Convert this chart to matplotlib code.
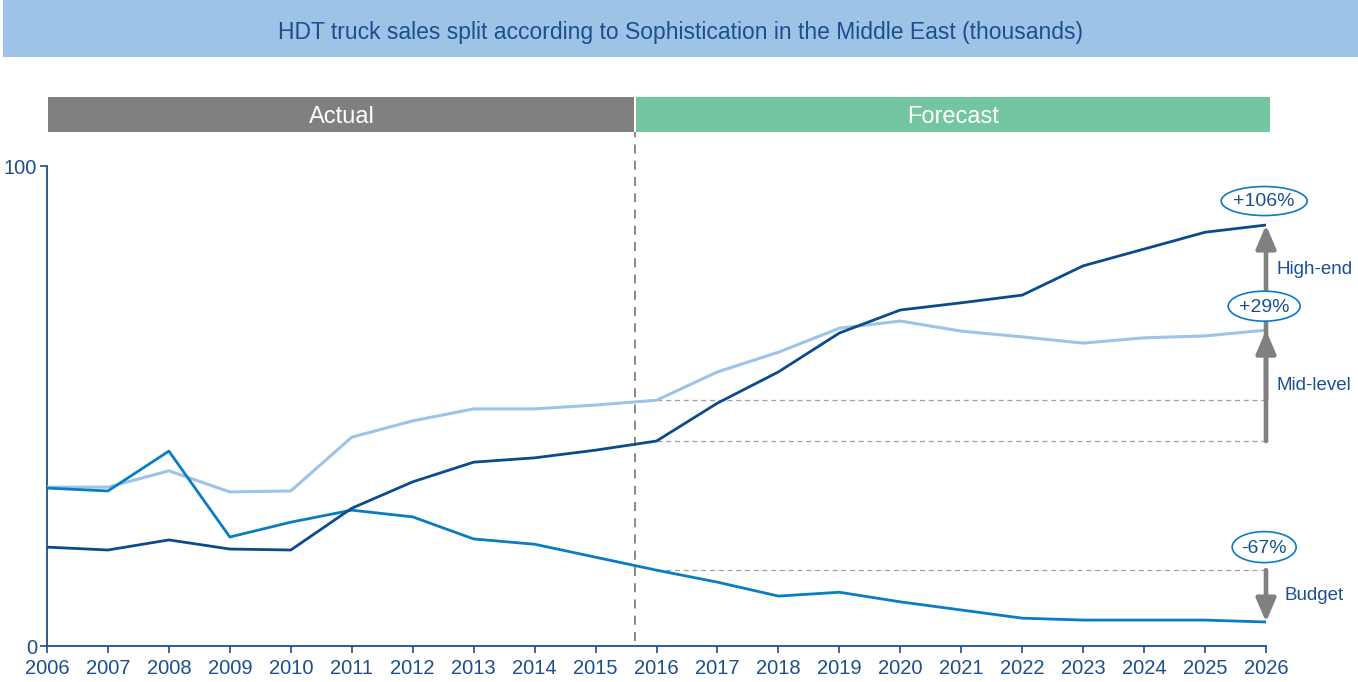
import matplotlib
matplotlib.use("Agg")
import matplotlib.pyplot as plt
from matplotlib.patches import Rectangle, Ellipse

plt.rcParams['font.family'] = ['Liberation Sans', 'DejaVu Sans']

years = list(range(2006, 2027))
high_end = [20.6, 20.0, 22.1, 20.2, 20.0, 28.7, 34.2, 38.3, 39.2, 40.8, 42.7,
            50.6, 57.1, 65.2, 70.0, 71.5, 73.1, 79.2, 82.7, 86.2, 87.7]
mid_level = [33.1, 33.1, 36.5, 32.1, 32.3, 43.5, 46.9, 49.4, 49.4, 50.2, 51.2,
             57.1, 61.2, 66.2, 67.7, 65.6, 64.4, 63.1, 64.2, 64.6, 65.8]
budget = [32.9, 32.3, 40.6, 22.7, 25.8, 28.3, 26.9, 22.3, 21.2, 18.5, 15.8,
          13.3, 10.4, 11.2, 9.2, 7.5, 5.8, 5.4, 5.4, 5.4, 5.0]
changes = ["+106%", "+29%", "-67%"]
seg_labels = ["High-end", "Mid-level", "Budget"]
title = "HDT truck sales split according to Sophistication in the Middle East (thousands)"

C_HIGH = "#0b4a8b"
C_MID = "#9dc3e6"
C_BUD = "#0a7cc1"
C_TXT = "#1c4f8f"
GRAY = "#808080"

W, H = 1358, 682
fig = plt.figure(figsize=(W / 100, H / 100), dpi=100)

# title band
fig.patches.append(Rectangle((3 / W, 1 - 57 / H), 1 - 3 / W, 57 / H, transform=fig.transFigure,
                             facecolor="#9dc3e6", edgecolor="none", zorder=0))
fig.text(0.5 * (3 / W + 1), 1 - 33 / H, title, ha="center", va="center", fontsize=16.5, color=C_TXT)

ax = fig.add_axes([47 / W, 36 / H, 1219 / W, 480 / H])
ax.set_xlim(2006, 2026)
ax.set_ylim(0, 100)

ax.plot(years, mid_level, color=C_MID, lw=2.2, zorder=3)
ax.plot(years, budget, color=C_BUD, lw=2.0, zorder=4)
ax.plot(years, high_end, color=C_HIGH, lw=2.0, zorder=5)

for s in ["top", "right"]:
    ax.spines[s].set_visible(False)
for s in ["left", "bottom"]:
    ax.spines[s].set_color(C_TXT)
    ax.spines[s].set_linewidth(1.3)
ax.set_yticks([0, 100])
ax.set_xticks(years)
ax.tick_params(axis="both", colors=C_TXT, labelsize=14.5, length=5, width=1.2, direction="out")
ax.tick_params(axis="y", pad=2)
ax.tick_params(axis="x", pad=4)

# actual / forecast split
split_x = 2015.65
ax.plot([split_x, split_x], [1.0, 107.0], color=GRAY, lw=1.3, ls=(0, (5, 4)), clip_on=False, zorder=2)
ybar0, ybar1 = (646 - 132) / 4.8, (646 - 97) / 4.8
ax.add_patch(Rectangle((2006.02, ybar0), split_x - 0.02 - 2006.02, ybar1 - ybar0, facecolor="#808080",
                       edgecolor="none", clip_on=False))
ax.add_patch(Rectangle((split_x + 0.02, ybar0), 2026.07 - split_x - 0.02, ybar1 - ybar0, facecolor="#74c6a0",
                       edgecolor="none", clip_on=False))
ylab = (ybar0 + ybar1) / 2 - 0.6
ax.text((2006.02 + split_x) / 2, ylab, "Actual", color="white", fontsize=17,
        ha="center", va="center")
ax.text((split_x + 2026.07) / 2, ylab, "Forecast", color="white", fontsize=17,
        ha="center", va="center")

# reference lines from 2016
i16 = years.index(2016)
for series in (high_end, mid_level, budget):
    ax.plot([2016, 2026], [series[i16], series[i16]], color="#a0a0a0", lw=0.9, ls=(0, (4, 3)), zorder=1)

# arrows
aprops = dict(arrowstyle="-|>,head_width=0.3,head_length=0.7", color=GRAY, lw=3.3,
              mutation_scale=20, shrinkA=0, shrinkB=0)
for series in (high_end, mid_level, budget):
    ax.annotate("", xy=(2026, series[-1]), xytext=(2026, series[i16]), arrowprops=aprops,
                annotation_clip=False, zorder=6)

# ellipse labels
ell = [(92.7, 86, 29), (70.8, 72, 30), (20.6, 64, 31)]
for (yc, wpx, hpx), txt in zip(ell, changes):
    ax.add_patch(Ellipse((2025.97, yc), wpx / 60.95, hpx / 4.8, facecolor="white", edgecolor=C_BUD,
                         lw=1.2, clip_on=False, zorder=7))
    ax.text(2025.97, yc - 0.2, txt, ha="center", va="center", fontsize=14, color=C_TXT, zorder=8)

seg_pos = [(2026.18, (646 - 269) / 4.8), (2026.18, (646 - 385) / 4.8), (2026.3, (646 - 596) / 4.8)]
for (xp, yp), txt in zip(seg_pos, seg_labels):
    ax.text(xp, yp, txt, ha="left", va="center", fontsize=13.5, color=C_TXT, clip_on=False)

fig.savefig("out.png", dpi=100)
